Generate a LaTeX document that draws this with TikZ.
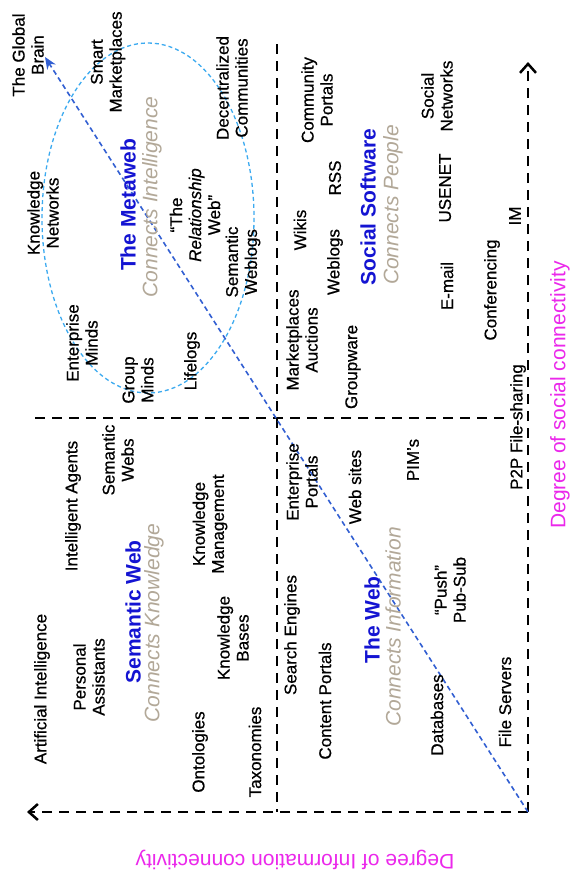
\documentclass[tikz,border=0pt]{standalone}
\usepackage{fontspec}
\setmainfont{Liberation Sans}
\newfontfamily\itemfont{Liberation Sans}[Ligatures=TeX, FakeBold=0.6]
\usetikzlibrary{arrows.meta}

\definecolor{titleblue}{RGB}{20,20,210}
\definecolor{mottogrey}{RGB}{178,168,152}
\definecolor{axismagenta}{RGB}{235,40,235}
\definecolor{ringblue}{RGB}{60,170,240}
\definecolor{trendblue}{RGB}{50,95,210}

\begin{document}
\begin{tikzpicture}[x=1pt, y=-1pt,
    item/.style={rotate=90, align=center, inner sep=0pt, font=\itemfont\fontsize{17}{19}\selectfont},
    title/.style={rotate=90, inner sep=0pt, text=titleblue, font=\bfseries\fontsize{21}{24}\selectfont},
    motto/.style={rotate=90, inner sep=0pt, text=mottogrey, font=\itshape\fontsize{21}{24}\selectfont},
    axislabel/.style={inner sep=0pt, text=axismagenta, font=\fontsize{21}{24}\selectfont},
    axis/.style={line width=2.5pt, dash pattern=on 10pt off 7pt, -{Straight Barb[length=9pt, width=16pt]}},
    divider/.style={line width=2.5pt, dash pattern=on 10pt off 7pt},
    trend/.style={trendblue, line width=1.6pt, dash pattern=on 5pt off 3.5pt, -{Stealth[length=12pt, width=10pt]}},
    metaring/.style={ringblue, line width=1.3pt, dash pattern=on 4pt off 3pt}]
  \path[use as bounding box, fill=white] (0,0) rectangle (570,886);

  \coordinate (origin) at (528,812);
  \coordinate (socialtip) at (528,62);
  \coordinate (infotip) at (27,812);
  \coordinate (vtop) at (277,44);
  \coordinate (vbottom) at (277,812);
  \coordinate (hleft) at (35,418);
  \coordinate (hright) at (510,418);
  \coordinate (braintip) at (45,57);

  \draw[metaring] (148,218) ellipse [x radius=106, y radius=175];
  \draw[divider] (vtop) -- (vbottom);
  \draw[divider] (hleft) -- (hright);
  \draw[axis] (origin) -- (socialtip);
  \draw[axis] (origin) -- (infotip);
  \draw[trend] (origin) -- (braintip);

  \node[item] (brain) at (28,55) {The Global\\Brain};
  \node[item] (smart) at (108,62) {Smart\\Marketplaces};
  \node[item] (decentral) at (232,88) {Decentralized\\Communities};
  \node[item] (knownet) at (43,213) {Knowledge\\Networks};
  \node[title] (metaweb) at (128,205) {The Metaweb};
  \node[motto] (metasub) at (152,197) {Connects Intelligence};
  \node[item] (relweb) at (195,215) {``The\\\textit{Relationship}\\Web''};
  \node[item] (semblogs) at (243,262) {Semantic\\Weblogs};
  \node[item] (entminds) at (82,343) {Enterprise\\Minds};
  \node[item] (groupminds) at (138,380) {Group\\Minds};
  \node[item] (lifelogs) at (192,361) {Lifelogs};

  \node[item] (community) at (317,100) {Community\\Portals};
  \node[item] (socnet) at (437,96) {Social\\Networks};
  \node[item] (wikis) at (300,230) {Wikis};
  \node[item] (rss) at (335,178) {RSS};
  \node[item] (weblogs) at (335,262) {Weblogs};
  \node[title] (socsw) at (368,207) {Social Software};
  \node[motto] (socsub) at (393,205) {Connects People};
  \node[item] (usenet) at (445,188) {USENET};
  \node[item] (im) at (515,216) {IM};
  \node[item] (email) at (447,286) {E-mail};
  \node[item] (conf) at (492,290) {Conferencing};
  \node[item] (market) at (302,340) {Marketplaces\\Auctions};
  \node[item] (groupware) at (353,367) {Groupware};

  \node[item] (agents) at (73,506) {Intelligent Agents};
  \node[item] (semwebs) at (118,460) {Semantic\\Webs};
  \node[item] (kmgmt) at (210,524) {Knowledge\\Management};
  \node[title] (semweb) at (133,612) {Semantic Web};
  \node[motto] (semsub) at (154,623) {Connects Knowledge};
  \node[item] (ai) at (42,689) {Artificial Intelligence};
  \node[item] (assistants) at (89,677) {Personal\\Assistants};
  \node[item] (kbases) at (233,638) {Knowledge\\Bases};
  \node[item] (ontologies) at (200,752) {Ontologies};
  \node[item] (taxonomies) at (255,752) {Taxonomies};

  \node[item] (entportals) at (302,482) {Enterprise\\Portals};
  \node[item] (websites) at (355,487) {Web sites};
  \node[item] (pims) at (413,460) {PIM's};
  \node[item] (p2p) at (518,427) {P2P File-sharing};
  \node[item] (push) at (450,590) {``Push''\\Pub-Sub};
  \node[item] (search) at (292,635) {Search Engines};
  \node[item] (content) at (325,701) {Content Portals};
  \node[title] (web) at (372,620) {The Web};
  \node[motto] (websub) at (393,627) {Connects Information};
  \node[item] (databases) at (437,715) {Databases};
  \node[item] (fileservers) at (505,702) {File Servers};

  \node[axislabel, rotate=90] (socaxis) at (560,395) {Degree of social connectivity};
  \node[axislabel, rotate=180] (infoaxis) at (295,860) {Degree of Information connectivity};
\end{tikzpicture}
\end{document}
